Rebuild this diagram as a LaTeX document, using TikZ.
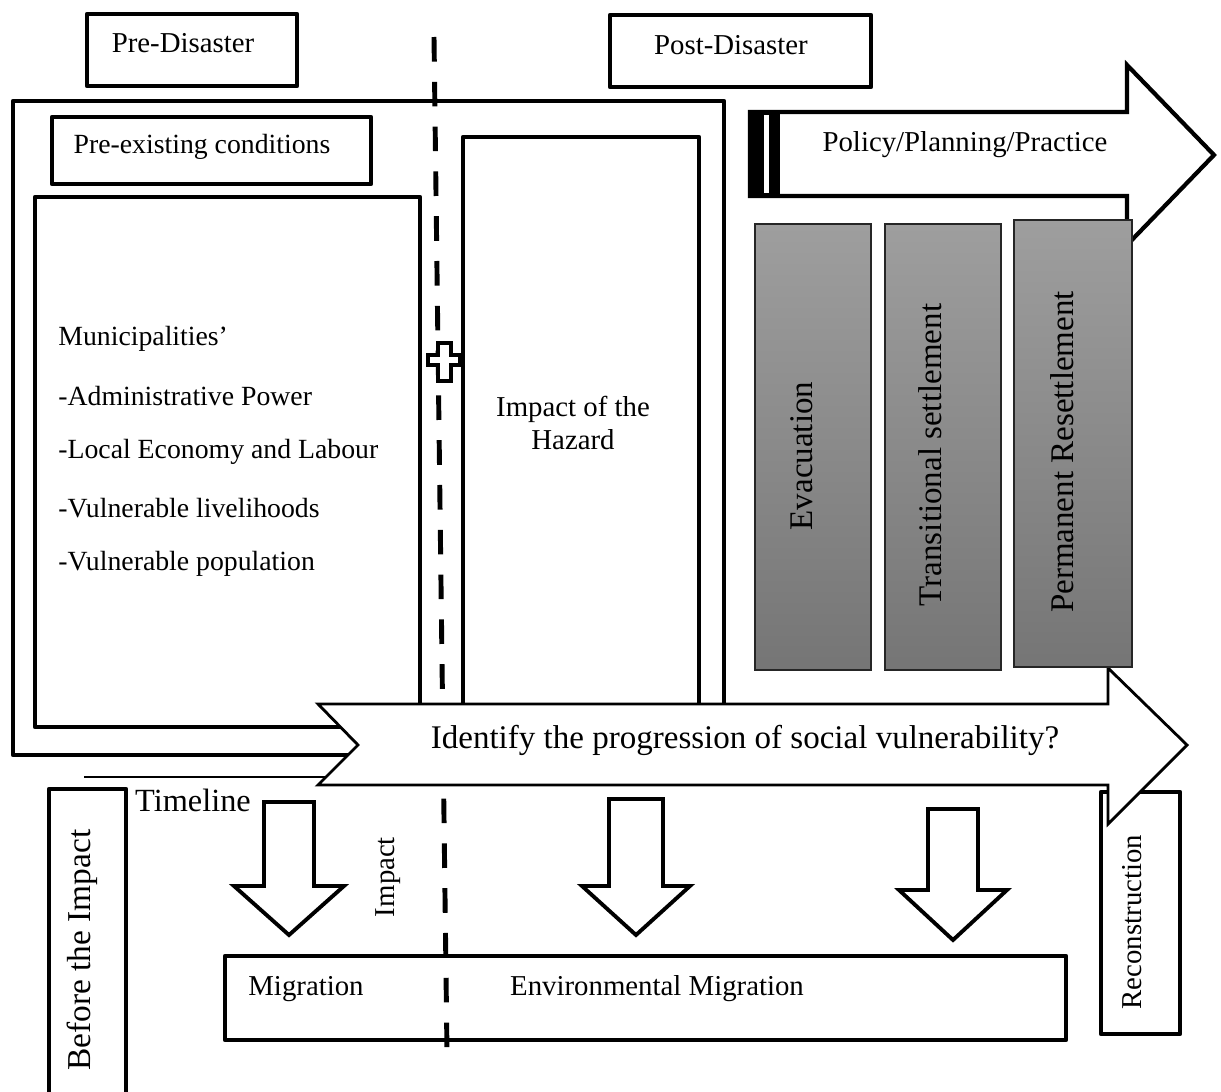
\documentclass[tikz,border=0pt]{standalone}
\usepackage{fontspec}
\setmainfont{Liberation Serif}
\usetikzlibrary{positioning}
\tikzset{
  boxline/.style = {line width=2.4pt, line join=round},
  bigarrow/.style = {draw, line width=1.6pt, fill=white, line join=miter},
  downarrow/.style = {draw, line width=2.2pt, fill=white, line join=miter},
  stage/.style = {top color=black!38, bottom color=black!54, draw=black!85, line width=0.6pt},
  lbl/.style = {inner sep=0pt, font=\fontsize{16.4}{18.7}\selectfont},
  smlbl/.style = {inner sep=0pt, font=\fontsize{15.8}{18}\selectfont},
  biglbl/.style = {inner sep=0pt, font=\fontsize{18.8}{22}\selectfont},
}
\begin{document}
\begin{tikzpicture}[x=0.02cm, y=-0.02cm]
\useasboundingbox (0,0) rectangle (1221,1092);

\draw[boxline] (87,14) rectangle (297,86);
\node[lbl] (predis) at (183,43) {Pre-Disaster};
\draw[boxline] (610,15) rectangle (871,87);
\node[lbl] (postdis) at (731,45) {Post-Disaster};

\draw[boxline] (13,101) rectangle (724,755);
\draw[boxline] (52,117) rectangle (371,184);
\node[smlbl] (preexist) at (202,147) {Pre-existing conditions};
\draw[boxline] (35,197) rectangle (420,727);
\node[smlbl, anchor=west] (muni) at (58,339) {Municipalities’};
\node[smlbl, anchor=west] (admin) at (58,396) {-Administrative Power};
\node[smlbl, anchor=west] (econ) at (58,452) {-Local Economy and Labour};
\node[smlbl, anchor=west] (liveli) at (58,508) {-Vulnerable livelihoods};
\node[smlbl, anchor=west] (popul) at (58,564) {-Vulnerable population};
\draw[boxline] (463,137) rectangle (699,720);
\node[lbl, align=center] (hazard) at (573,423) {Impact of the\\Hazard};

\draw[line width=2.8pt, dash pattern=on 14pt off 11.5pt] (434,37) -- (447,1052);
\draw[line width=2pt, fill=white, line join=miter] (438,343) -- (451,343) -- (451,355) -- (460,355) -- (460,365) -- (451,365)
  -- (451,381) -- (438,381) -- (438,365) -- (428,365) -- (428,355) -- (438,355) -- cycle;

\draw[boxline, fill=white, line join=miter] (750,112) -- (1127,112) -- (1127,65) -- (1214,155) -- (1127,245) -- (1127,196) -- (750,196) -- cycle;
\fill (748,110) rectangle (780,198);
\fill[white] (764,115) rectangle (769,193);
\node[lbl] (policy) at (965,145) {Policy/Planning/Practice};

\draw[boxline] (1101,792) rectangle (1180,1034);
\node[lbl, rotate=90] (recon) at (1132,922) {Reconstruction};

\draw[bigarrow] (318,704) -- (1108,704) -- (1108,668) -- (1187,745) -- (1108,824) -- (1108,785) -- (318,785) -- (358,745) -- cycle;
\node[biglbl] (progress) at (745,740) {Identify the progression of social vulnerability?};

\shade[stage] (755,224) rectangle (871,670);
\shade[stage] (885,224) rectangle (1001,670);
\shade[stage] (1014,220) rectangle (1132,667);
\node[biglbl, rotate=90] (evac) at (802,456) {Evacuation};
\node[biglbl, rotate=90] (transit) at (930,455) {Transitional settlement};
\node[biglbl, rotate=90] (perm) at (1062,452) {Permanent Resettlement};

\draw[line width=1.6pt] (84,777) -- (326,777);
\node[inner sep=0pt, font=\fontsize{18.4}{22}\selectfont] (timeline) at (193,800) {Timeline};

\draw[boxline] (49,789) rectangle (126,1100);
\node[inner sep=0pt, font=\fontsize{19}{22}\selectfont, rotate=90] (before) at (82,950) {Before the Impact};
\node[lbl, rotate=90] (impact) at (388,877) {Impact};

\foreach \cx/\ty/\hy/\py/\sw/\hw in {289/802/886/935/25/55, 636/799/886/935/27/54, 953/809/890/940/25/54}
  \draw[downarrow] (\cx-\sw,\ty) -- (\cx+\sw,\ty) -- (\cx+\sw,\hy) -- (\cx+\hw,\hy) -- (\cx,\py)
    -- (\cx-\hw,\hy) -- (\cx-\sw,\hy) -- cycle;

\draw[boxline] (225,956) rectangle (1066,1040);
\node[lbl] (migr) at (306,989) {Migration};
\node[lbl] (envmigr) at (657,989) {Environmental Migration};
\end{tikzpicture}
\end{document}
